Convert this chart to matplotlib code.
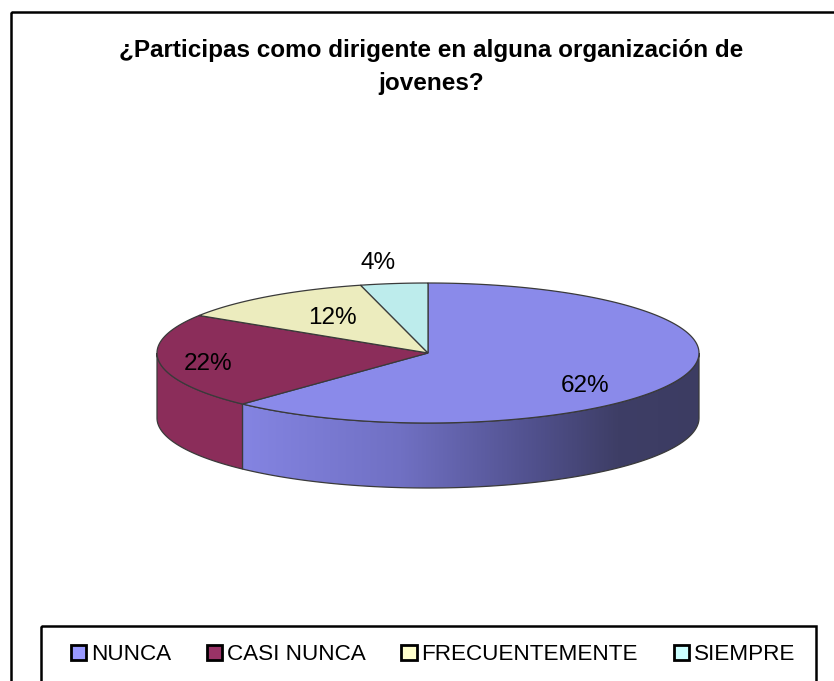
import numpy as np
import matplotlib
matplotlib.use("Agg")
import matplotlib.pyplot as plt
from matplotlib.patches import Polygon, Rectangle, Patch

# ---- data ----
categories = ["NUNCA", "CASI NUNCA", "FRECUENTEMENTE", "SIEMPRE"]
values = [62, 22, 12, 4]
label_texts = ["62%", "22%", "12%", "4%"]
title = "¿Participas como dirigente en alguna organización de\njovenes?"

# ---- styles / layout ----
top_colors = ["#8A8AEA", "#8B2D5A", "#ECECBE", "#BDECEC"]
legend_colors = ["#9999FF", "#993366", "#FFFFCC", "#CCFFFF"]
label_pos = [(585, 386), (208, 364), (332, 318), (378, 263)]
cx, cy, a, b, depth = 428.0, 353.0, 271.0, 70.0, 65.0
FONT = ["Liberation Sans", "DejaVu Sans"]

W, H = 834, 681
fig = plt.figure(figsize=(W / 100, H / 100), dpi=100)
ax = fig.add_axes([0, 0, 1, 1])
ax.set_xlim(0, W)
ax.set_ylim(H, 0)
ax.axis("off")

def pt(t, dz=0.0):
    r = np.deg2rad(t)
    return cx + a * np.cos(r), cy - b * np.sin(r) + dz

# angles (counter-clockwise ranges), starting at 90 deg going clockwise
fr = np.array(values, float) / sum(values)
cum = np.concatenate([[0], np.cumsum(fr)])
ranges = [(90 - 360 * cum[i + 1], 90 - 360 * cum[i]) for i in range(len(values))]

edge = "#3a3a3a"
lw = 0.9

def grad_color(u):
    stops = [(0.0, (142, 142, 238)), (0.16, (132, 132, 226)), (0.45, (112, 112, 195)),
             (0.7, (80, 80, 140)), (0.85, (62, 62, 102)), (1.0, (60, 60, 98))]
    us = [s[0] for s in stops]
    return [np.interp(u, us, [s[1][k] for s in stops]) / 255 for k in range(3)]

# sides (front half only)
for i, (t1, t2) in enumerate(ranges):
    for k in (-1, 0, 1):
        lo, hi = -180 + 360 * k, 360 * k
        s1, s2 = max(t1, lo), min(t2, hi)
        if s2 <= s1:
            continue
        ts = np.linspace(s1, s2, 200)
        verts = [pt(t) for t in ts] + [pt(t, depth) for t in ts[::-1]]
        if i == 0:
            poly = Polygon(verts, closed=True, facecolor="none", edgecolor="none")
            ax.add_patch(poly)
            u = np.linspace(0, 1, 400)
            img = np.array([grad_color(x) for x in u])[None, :, :]
            im = ax.imshow(img, extent=(cx - a, cx + a, cy + b + depth, cy - b),
                           aspect="auto", interpolation="bilinear", zorder=1)
            im.set_clip_path(poly)
            ax.set_xlim(0, W); ax.set_ylim(H, 0)
            ax.add_patch(Polygon(verts, closed=True, facecolor="none",
                                 edgecolor=edge, lw=lw, zorder=2))
        else:
            ax.add_patch(Polygon(verts, closed=True, facecolor=top_colors[i],
                                 edgecolor=edge, lw=lw, zorder=2))

# tops
for i, (t1, t2) in enumerate(ranges):
    ts = np.linspace(t1, t2, 300)
    verts = [(cx, cy)] + [pt(t) for t in ts]
    ax.add_patch(Polygon(verts, closed=True, facecolor=top_colors[i],
                         edgecolor=edge, lw=lw, zorder=3))

# data labels
for txt, (x, y) in zip(label_texts, label_pos):
    ax.text(x, y, txt, ha="center", va="center", fontsize=17.5,
            family=FONT, color="black", zorder=5)

# title
ax.text(431, 67, title, ha="center", va="center", fontsize=17.5, fontweight="bold",
        family=FONT, linespacing=1.6, zorder=5)

# outer border and legend box
ax.add_patch(Rectangle((11, 12), 900, 800, facecolor="none", edgecolor="black", lw=1.8, zorder=6))
ax.add_patch(Rectangle((41, 626), 775, 200, facecolor="none", edgecolor="black", lw=1.8, zorder=6))

handles = [Patch(facecolor=c, edgecolor="black", lw=2.0) for c in legend_colors]
leg = ax.legend(handles, categories, loc="center", bbox_to_anchor=(433, 655),
                bbox_transform=ax.transData, ncol=4, frameon=False,
                prop={"family": FONT, "size": 16.2},
                handlelength=0.68, handleheight=0.68, handletextpad=0.2,
                columnspacing=1.6, borderpad=0)

fig.savefig("out.png", dpi=100)
